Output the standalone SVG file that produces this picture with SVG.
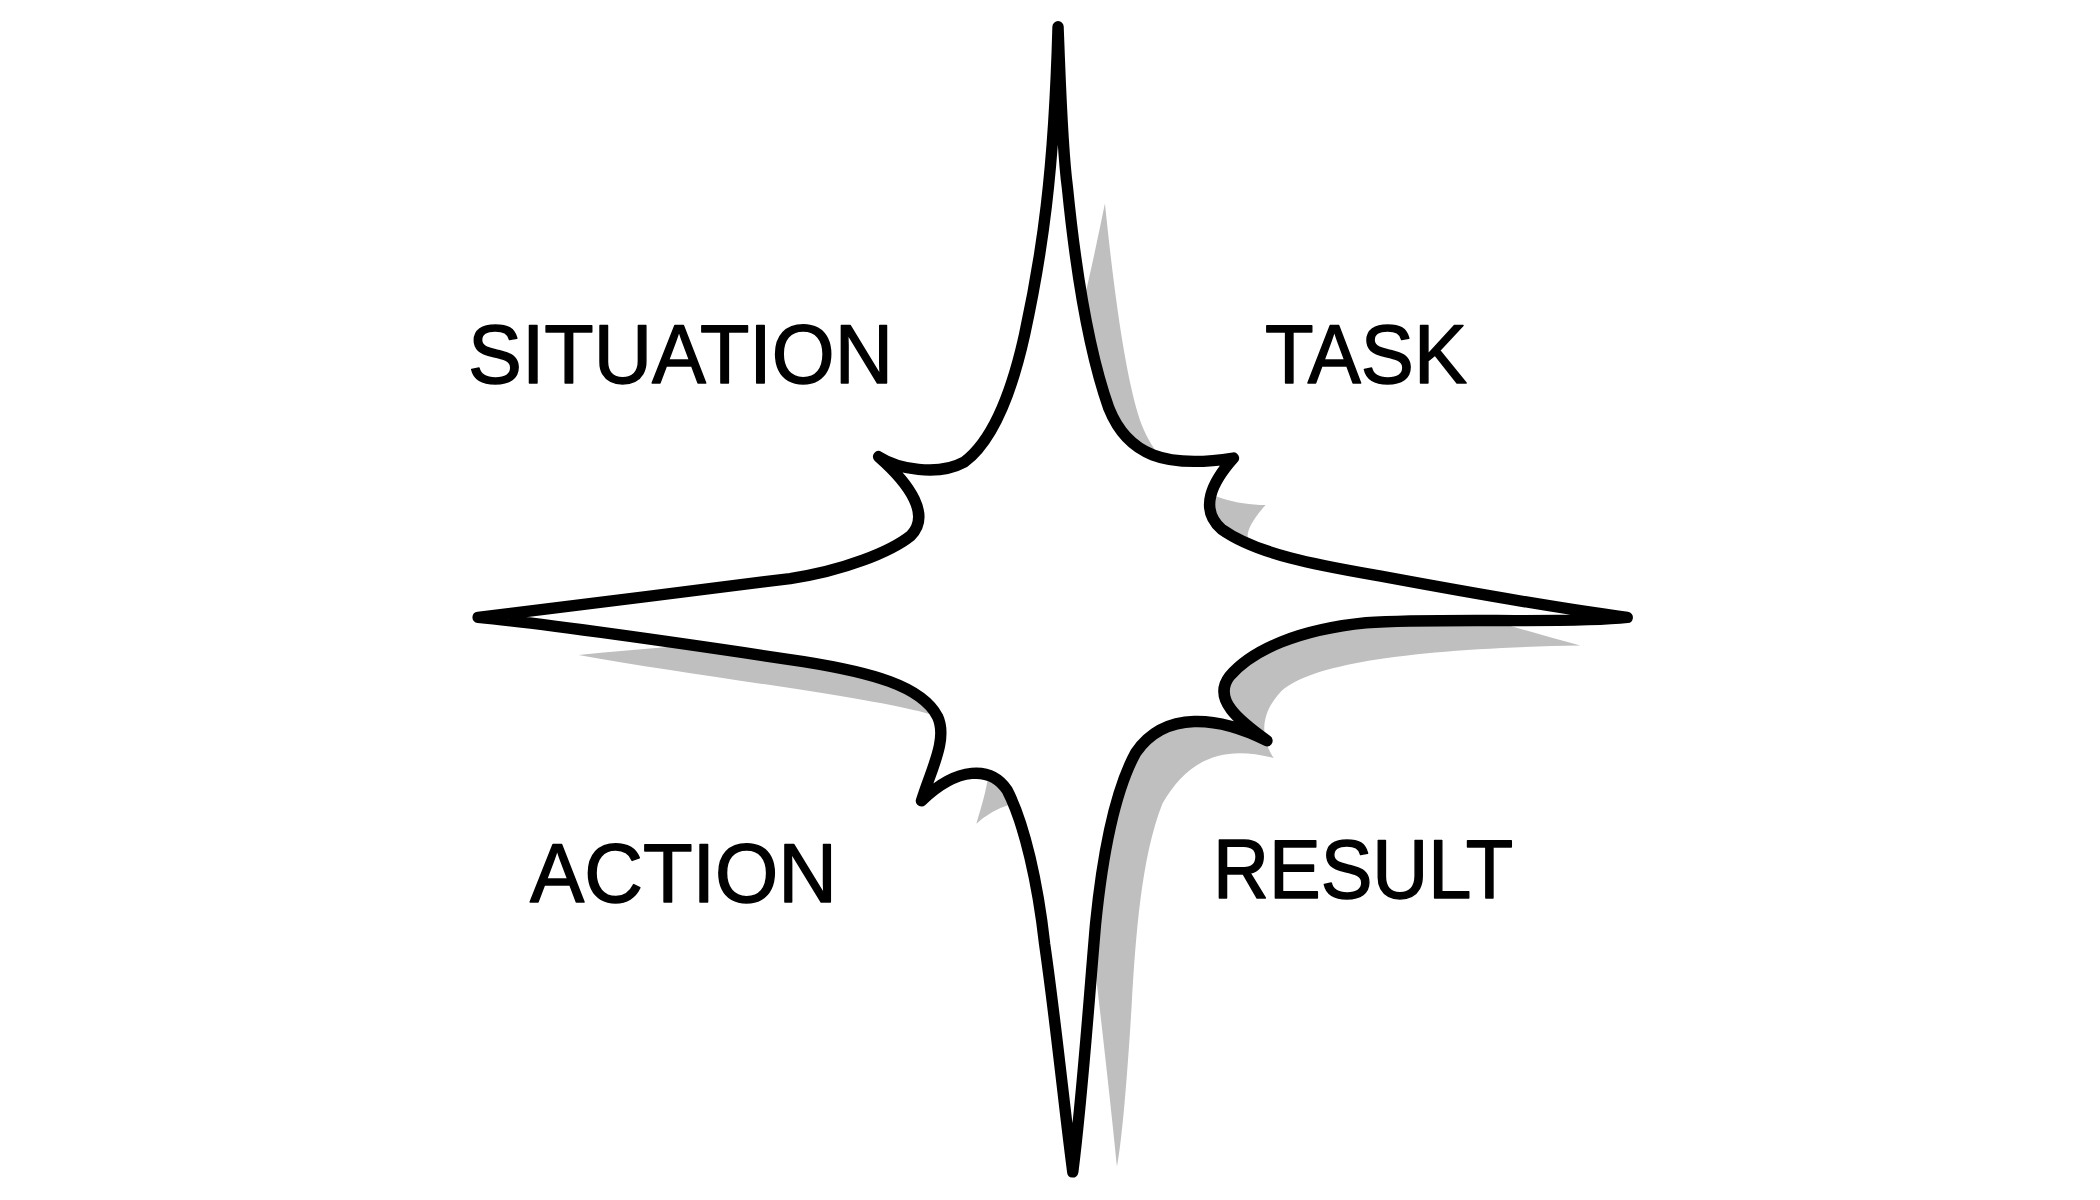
<svg xmlns="http://www.w3.org/2000/svg" width="2100" height="1200" viewBox="0 0 2100 1200">
  <style>
    .shadow { fill: #bfbfbf; stroke: none; }
    .star { fill: #ffffff; stroke: #000000; stroke-width: 8.5; stroke-linejoin: round; stroke-linecap: round; }
    .label { font-family: "Liberation Sans", Arial, sans-serif; font-size: 84px; fill: #000000; stroke: #000000; stroke-width: 1.5; stroke-linejoin: round; text-anchor: start; }
  </style>
  <rect width="2100" height="1200" fill="#ffffff"/>
  <g id="figure" transform="scale(1.339286)">
    <g id="shadow">
      <path class="shadow" d="M 825,152 C 830,200 838,270 850,310 C 862,350 900,377 945,377 C 935,388 930,398 932,402 C 990,425 1080,455 1180,482 C 1060,484 975,495 955,518 C 940,535 942,552 951,566 C 910,555 885,570 868,600 C 852,640 848,700 845,750 C 842,800 838,850 834,871 C 830,830 822,760 815,700 C 808,640 790,600 753,601 Q 740,605 729,615 C 734,598 740,580 738,565 C 735,545 715,538 697,534 C 650,520 520,505 432,489 C 500,482 580,478 640,470 C 690,460 710,420 700,395 C 697,385 694,376 690,370 C 720,380 770,340 790,290 C 805,250 815,200 825,152 Z"/>
    </g>
    <g id="star">
      <path class="star" d="M 790,20 C 792,70 793,110 797,140 C 803,200 812,260 828,305 C 842,340 870,350 921,342 C 905,360 895,380 912,395 C 940,415 990,423 1030,430 C 1100,443 1170,455 1215,461 C 1170,466 1080,461 1020,465 C 970,470 935,485 918,505 C 905,522 925,538 946,553 C 910,535 870,530 848,562 C 830,595 822,650 818,690 C 812,760 808,820 801,875 C 795,830 788,760 780,705 C 775,660 765,615 752,590 C 740,572 715,572 688,598 C 695,575 708,552 700,535 C 688,512 650,502 600,494 C 520,482 420,467 357,461 C 420,453 520,441 590,432 C 630,426 665,412 680,400 C 695,385 680,362 656,341 C 670,350 700,356 720,345 C 740,330 755,295 765,250 C 778,190 787,130 790,20 Z"/>
    </g>
  </g>
  <g id="label-situation"><text class="label" x="468" y="383" textLength="425" lengthAdjust="spacingAndGlyphs">SITUATION</text></g>
  <g id="label-task"><text class="label" x="1265" y="383" textLength="202" lengthAdjust="spacingAndGlyphs">TASK</text></g>
  <g id="label-action"><text class="label" x="530" y="902" textLength="307" lengthAdjust="spacingAndGlyphs">ACTION</text></g>
  <g id="label-result"><text class="label" x="1213" y="898" textLength="300" lengthAdjust="spacingAndGlyphs">RESULT</text></g>
  <g id="connectors"/>
</svg>
